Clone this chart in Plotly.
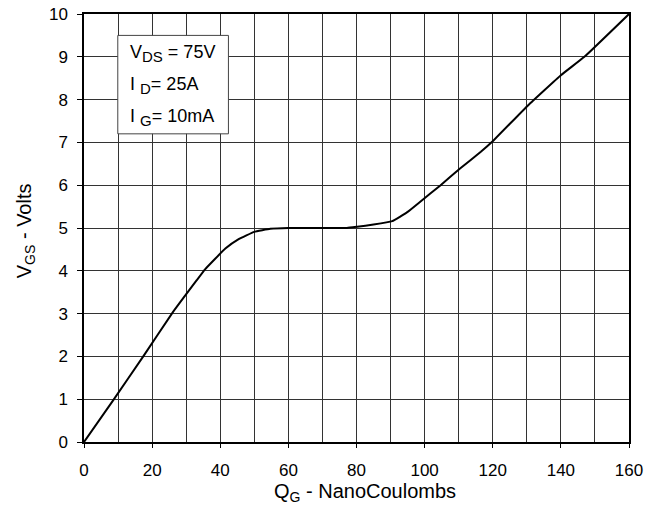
import plotly.graph_objects as go

# Gate charge curve
qg_nc = [0, 8.6, 17.4, 25.8, 33.1, 35.6, 41.5, 45.4, 50, 54.7, 60, 70, 77.2,
         80.2, 85, 90.5, 94.9, 98.8, 104.7, 110.4, 116.5, 119.9, 130.4, 140,
         146.9, 160]
vgs_v = [0, 0.98, 2.0, 3.0, 3.78, 4.04, 4.52, 4.74, 4.91, 4.98, 5.0, 5.0, 5.0,
         5.03, 5.08, 5.16, 5.37, 5.62, 6.0, 6.39, 6.78, 7.02, 7.87, 8.57,
         9.0, 10]

x_ticks = [0, 20, 40, 60, 80, 100, 120, 140, 160]
y_ticks = [0, 1, 2, 3, 4, 5, 6, 7, 8, 9, 10]

SUB = '<sub><span style="font-size:15px">{}</span></sub>'
cond_lines = ["V" + SUB.format("DS") + " = 75V",
              "I " + SUB.format("D") + "= 25A",
              "I " + SUB.format("G") + "= 10mA"]
x_title = "Q<sub>G</sub> - NanoCoulombs"
y_title = "V<sub>GS</sub> - Volts"

FONT = "Liberation Sans, Arial, sans-serif"
GRID = "#333333"

fig = go.Figure()
fig.add_trace(go.Scatter(x=qg_nc, y=vgs_v, mode="lines",
                         line=dict(color="black", width=2, shape="spline", smoothing=0.3),
                         hoverinfo="skip", showlegend=False))

fig.update_layout(
    width=661, height=510,
    margin=dict(l=84, r=32, t=14, b=68),
    paper_bgcolor="white", plot_bgcolor="white",
    font=dict(family=FONT, size=17, color="black"),
    showlegend=False,
)

fig.update_xaxes(
    range=[0, 160], tickvals=x_ticks, ticktext=[str(v) for v in x_ticks],
    showgrid=True, gridcolor=GRID, gridwidth=1,
    minor=dict(dtick=10, showgrid=True, gridcolor=GRID, gridwidth=1),
    showline=True, linecolor="black", linewidth=1.5, mirror=True,
    ticks="outside", ticklen=4, tickcolor="black", ticklabelstandoff=8,
    ticklabeloverflow="allow",
    zeroline=False, automargin=False,
)
fig.update_yaxes(
    range=[0, 10], tickvals=y_ticks, ticktext=[str(v) for v in y_ticks],
    showgrid=True, gridcolor=GRID, gridwidth=1,
    showline=True, linecolor="black", linewidth=1.5, mirror=True,
    ticks="outside", ticklen=5, tickcolor="black", ticklabelstandoff=6,
    ticklabeloverflow="allow",
    zeroline=False, automargin=False,
)

fig.add_annotation(xref="paper", yref="paper", x=0.515, y=-0.118, text=x_title,
                   showarrow=False, xanchor="center", yanchor="middle",
                   font=dict(size=20, family=FONT, color="black"))
fig.add_annotation(xref="paper", yref="paper", x=-0.106, y=0.493, text=y_title,
                   showarrow=False, xanchor="center", yanchor="middle", textangle=-90,
                   font=dict(size=20, family=FONT, color="black"))

fig.add_shape(type="rect", xref="paper", yref="paper",
              x0=0.062, x1=0.265, y0=0.72, y1=0.95,
              line=dict(color="#444444", width=1), fillcolor="white", layer="above")

for text, yy in zip(cond_lines, [0.907, 0.832, 0.759]):
    fig.add_annotation(xref="paper", yref="paper", x=0.080, y=yy, text=text,
                       showarrow=False, xanchor="left", yanchor="middle",
                       font=dict(size=18, family=FONT, color="black"))

fig.write_html("out.html", config={"displayModeBar": False},
               post_script="document.body.style.margin='0';")
